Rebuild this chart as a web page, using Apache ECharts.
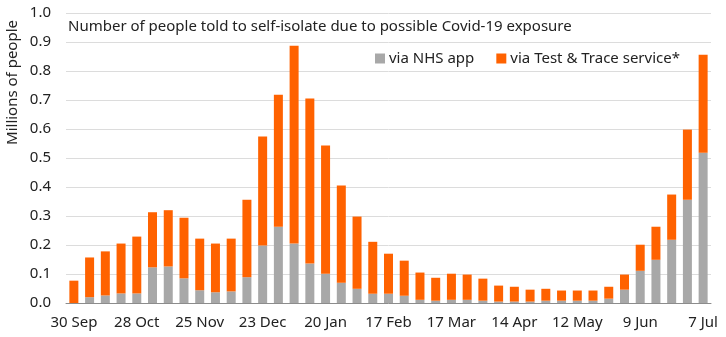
<!DOCTYPE html>
<html>
<head>
<meta charset="utf-8">
<script src="https://cdn.jsdelivr.net/npm/echarts@6/dist/echarts.min.js"></script>
<style>
  html, body { margin: 0; padding: 0; background: #fff; }
  #chart { width: 726px; height: 337px; }
</style>
</head>
<body>
<div id="chart"></div>
<script>
// Week-ending dates, Sep 2020 to Jul 2021
const weeks = ["30 Sep","7 Oct","14 Oct","21 Oct","28 Oct","4 Nov","11 Nov","18 Nov","25 Nov","2 Dec","9 Dec","16 Dec","23 Dec","30 Dec","6 Jan","13 Jan","20 Jan","27 Jan","3 Feb","10 Feb","17 Feb","24 Feb","3 Mar","10 Mar","17 Mar","24 Mar","31 Mar","7 Apr","14 Apr","21 Apr","28 Apr","5 May","12 May","19 May","26 May","2 Jun","9 Jun","16 Jun","23 Jun","30 Jun","7 Jul"];

// Millions of people told to self-isolate, by route
const viaNhsApp = [0.000,0.020,0.026,0.033,0.033,0.123,0.126,0.085,0.044,0.037,0.040,0.089,0.198,0.263,0.205,0.136,0.101,0.070,0.049,0.032,0.032,0.025,0.011,0.008,0.011,0.011,0.008,0.005,0.005,0.005,0.008,0.008,0.008,0.008,0.015,0.046,0.111,0.149,0.218,0.356,0.518];
const viaTestTrace = [0.077,0.137,0.152,0.172,0.196,0.190,0.194,0.209,0.178,0.168,0.182,0.267,0.376,0.455,0.682,0.569,0.442,0.335,0.249,0.179,0.138,0.121,0.094,0.079,0.090,0.087,0.076,0.055,0.051,0.041,0.041,0.035,0.035,0.035,0.041,0.052,0.090,0.114,0.156,0.242,0.338];

const FONT = "Noto Sans";
const TEXT = "#222";

const chart = echarts.init(document.getElementById("chart"), null, { renderer: "canvas" });
chart.setOption({
  animation: false,
  textStyle: { fontFamily: FONT },
  title: {
    text: "Number of people told to self-isolate due to possible Covid-19 exposure",
    left: 68, top: 19, padding: 0,
    textStyle: { fontFamily: FONT, fontSize: 15, fontWeight: "normal", color: TEXT }
  },
  legend: {
    left: 375, top: 51, padding: 0,
    itemWidth: 10, itemHeight: 10, itemGap: 22,
    icon: "rect",
    textStyle: { fontFamily: FONT, fontSize: 15, color: TEXT, padding: [0, 0, 0, -1] },
    data: ["via NHS app", "via Test & Trace service*"]
  },
  graphic: [{
    type: "text",
    left: 5, top: 20,
    rotation: Math.PI / 2,
    style: { text: "Millions of people", font: "15px 'Noto Sans'", fill: TEXT }
  }],
  grid: { left: 66, right: 15, top: 13, bottom: 34, containLabel: false },
  xAxis: {
    type: "category",
    data: weeks,
    axisLine: { lineStyle: { color: "#8c8c8c", width: 1 } },
    axisTick: { interval: 0, length: 4, lineStyle: { color: "#8c8c8c" } },
    axisLabel: { interval: 3, fontSize: 15, color: TEXT, margin: 12, fontFamily: FONT }
  },
  yAxis: {
    type: "value",
    min: 0, max: 1, interval: 0.1,
    axisLine: { show: false },
    axisTick: { show: false },
    splitLine: { lineStyle: { color: "#dcdcdc", width: 1 } },
    axisLabel: { fontSize: 15, color: TEXT, margin: 15, fontFamily: FONT,
      formatter: v => v.toFixed(1) }
  },
  series: [
    { name: "via NHS app", type: "bar", stack: "total", data: viaNhsApp,
      barWidth: 9, itemStyle: { color: "#a8a8a8" } },
    { name: "via Test & Trace service*", type: "bar", stack: "total", data: viaTestTrace,
      barWidth: 9, itemStyle: { color: "#ff6200" } }
  ]
});
</script>
</body>
</html>
